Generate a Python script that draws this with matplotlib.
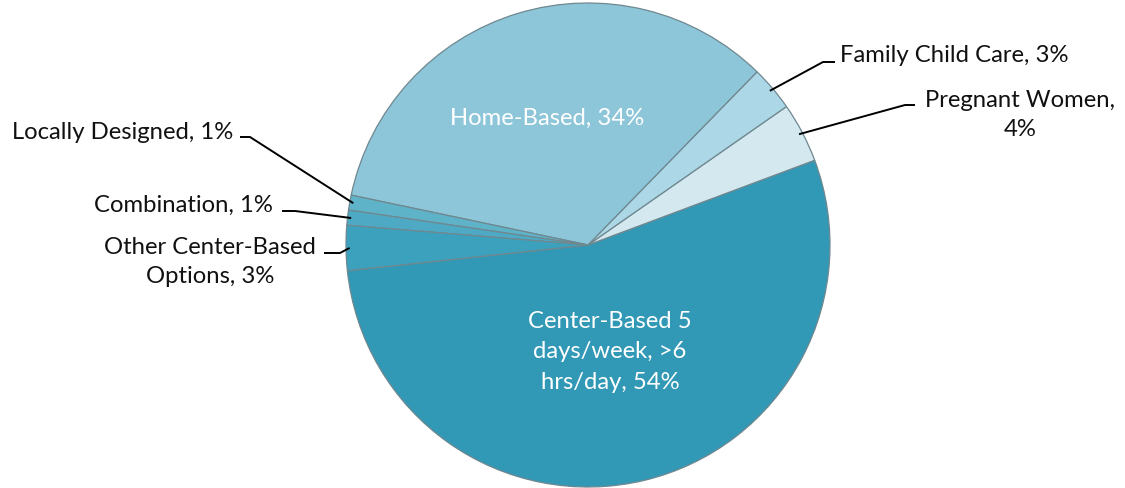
import numpy as np
import matplotlib.pyplot as plt

labels = ["Center-Based 5\ndays/week, >6\nhrs/day, 54%", "Pregnant Women,\n4%", "Family Child Care, 3%",
          "Home-Based, 34%", "Locally Designed, 1%", "Combination, 1%", "Other Center-Based\nOptions, 3%"]
values = [54, 4, 3, 34, 1, 1, 3]
colors = ["#3198b5", "#d3e8ef", "#acd7e6", "#8dc5d9", "#5fb3c9", "#4eaac4", "#3ba1bd"]

W, H = 1125, 489
cx, cy, R = 588, 246, 242   # pie centre / radius in pixels (y from top)

plt.rcParams['font.family'] = ['Lato', 'DejaVu Sans']
fig = plt.figure(figsize=(W / 100, H / 100), dpi=100)
ax = fig.add_axes([0, 0, 1, 1])

start = 20.5 - values[0] * 3.6
wedges, _ = ax.pie(values, colors=colors, startangle=start, counterclock=True,
                   center=(cx, H - cy), radius=R,
                   wedgeprops=dict(edgecolor="#6f8890", linewidth=0.9))
ax.set_xlim(0, W)
ax.set_ylim(0, H)
ax.set_aspect('equal')
ax.axis('off')

def edge(i, k=1.0):
    w = wedges[i]
    a = np.deg2rad((w.theta1 + w.theta2) / 2)
    return cx + R * k * np.cos(a), cy - R * k * np.sin(a)

fs = 17.2
# inside labels
ax.text(547, H - 118, labels[3], color="white", fontsize=fs, ha="center", va="center")
ax.text(610, H - 352, labels[0], color="white", fontsize=fs, ha="center", va="center", linespacing=1.55)

# outside labels: (index, elbow, line end, text pos, ha)
outside = [
    (2, (823, 63), (835, 63), (840, 56), "left", "center"),
    (1, (905, 106), (915, 106), (1020, 115), "center", "center"),
    (4, (250, 138), (240, 138), (233, 133), "right", "center"),
    (5, (295, 212), (282, 212), (273, 205), "right", "center"),
    (6, (340, 254), (324, 254), (210, 262), "center", "center"),
]
for i, elbow, end, tpos, ha, va in outside:
    ex, ey = edge(i, 0.985)
    xs = [ex, elbow[0], end[0]]
    ys = [H - ey, H - elbow[1], H - end[1]]
    ax.plot(xs, ys, color="black", lw=1.4, solid_capstyle="butt")
    ax.text(tpos[0], H - tpos[1], labels[i], fontsize=fs, ha=ha, va=va,
            color="#111111", linespacing=1.5,
            multialignment="center")

fig.savefig("out.png", dpi=100)
